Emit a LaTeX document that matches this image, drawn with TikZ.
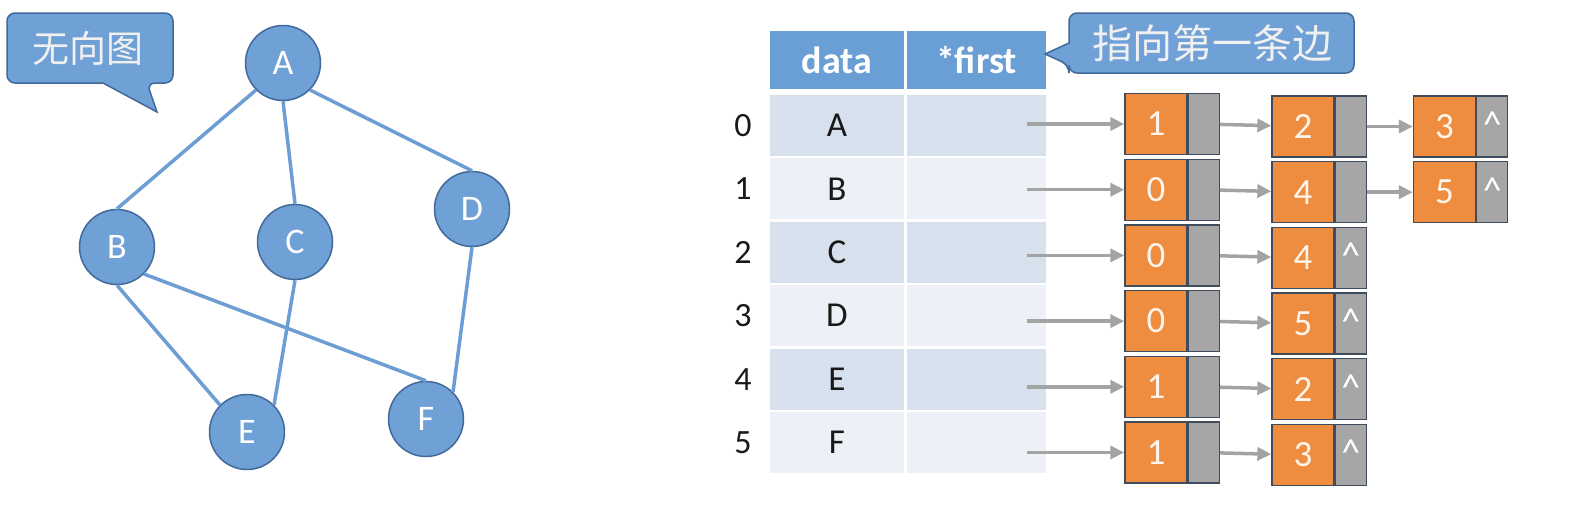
\documentclass[tikz,border=0pt]{standalone}
\usepackage{fontspec}
\setmainfont{Carlito}
\newfontfamily\cjk{Noto Sans CJK SC}
\usetikzlibrary{arrows.meta,positioning}

\definecolor{vfill}{HTML}{6FA0D6}
\definecolor{vline}{HTML}{41699A}
\definecolor{lineblue}{HTML}{6C9DD3}
\definecolor{headblue}{HTML}{6A9FD5}
\definecolor{rowdark}{HTML}{D7E0ED}
\definecolor{rowlight}{HTML}{EDF0F7}
\definecolor{cellorange}{HTML}{EE8D40}
\definecolor{cellgray}{HTML}{A6A6A6}
\definecolor{cellline}{HTML}{3E4C5E}
\definecolor{ptrgray}{HTML}{A3A3A3}

\tikzset{
  vert/.style={circle, draw=vline, fill=vfill, line width=1.5pt, minimum size=75pt,
    inner sep=0pt, text=white, font=\fontsize{36}{42}\selectfont},
  gline/.style={draw=lineblue, line width=3.5pt},
  head/.style={fill=headblue, text=white, minimum height=58pt, inner sep=0pt,
    font=\fontsize{38}{44}\selectfont\bfseries},
  cell/.style={minimum height=61pt, inner sep=0pt, text=black!90,
    font=\fontsize{35}{42}\selectfont},
  idx/.style={text=black!90, font=\fontsize{34}{40}\selectfont},
  vtx/.style={draw=cellline, fill=cellorange, line width=1.3pt, minimum width=62pt,
    minimum height=61pt, inner sep=0pt, text=white!92!orange,
    font=\fontsize{37}{44}\selectfont},
  nxt/.style={draw=cellline, fill=cellgray, line width=1.3pt, minimum width=31pt,
    minimum height=61pt, inner sep=0pt, text=white, font=\fontsize{38}{44}\selectfont},
  ptr/.style={draw=ptrgray, line width=3.5pt, -{Triangle[length=14pt,width=13pt]}},
  bubble/.style={draw=vline, fill=vfill, line width=1.5pt, rounded corners=8pt},
  tagtext/.style={text=white!94!black, inner sep=0pt},
}
\newcommand\nilmark{\raisebox{4pt}{\textasciicircum}}

\begin{document}
\begin{tikzpicture}[x=1pt,y=-1pt]
  \useasboundingbox (0,0) rectangle (1580,506);

  % undirected graph
  \node[vert] (A) at (283,63) {A};
  \node[vert] (B) at (117,247) {B};
  \node[vert] (C) at (295,242) {C};
  \node[vert] (D) at (472,209) {D};
  \node[vert] (E) at (247,432) {E};
  \node[vert] (F) at (426,419) {F};
  \draw[gline] (A.south west) -- (B.north);
  \draw[gline] (A.south) -- (C.north);
  \draw[gline] (A.south east) -- (D.north);
  \draw[gline] (B.south) -- (E.north west);
  \draw[gline] (B.south east) -- (F.north);
  \draw[gline] (C.south) -- (E.north east);
  \draw[gline] (D.south) -- (F.north east);

  \draw[bubble] (103,83) -- (7,83) -- (7,13) -- (173,13) -- (173,83) -- (147,83)
    [sharp corners] -- (157,112) -- cycle;
  \node[tagtext, font=\cjk\fontsize{37}{44}\selectfont] (tag1) at (88,48) {无向图};

  % vertex table
  \node[head, minimum width=134pt] (hdata) at (837,60) {data};
  \node[head, minimum width=139pt] (hfirst) at (976.5,60) {*first};
  \foreach \i/\v/\c in {0/A/rowdark,1/B/rowlight,2/C/rowdark,3/D/rowlight,4/E/rowdark,5/F/rowlight} {
    \node[cell, fill=\c, minimum width=134pt] (data\i) at (837,{125.5+63.4*\i}) {\v};
    \node[cell, fill=\c, minimum width=139pt] (first\i) at (976.5,{125.5+63.4*\i}) {};
    \node[idx] (idx\i) at (743,{125.5+63.4*\i}) {\i};
  }

  \draw[bubble] (1069,43) -- (1069,13) -- (1354,13) -- (1354,73) -- (1069,73) -- (1069,65)
    [sharp corners] -- (1045,54) -- cycle;
  \node[tagtext, font=\cjk\fontsize{40}{48}\selectfont] (tag2) at (1212,43) {指向第一条边};

  % edge lists
  \foreach \i/\a/\b/\t in {0/1/2/{},1/0/4/{},2/0/4/\nilmark,3/0/5/\nilmark,4/1/2/\nilmark,5/1/3/\nilmark} {
    \node[vtx] (o\i1) at (1156,{124+65.7*\i}) {\a};
    \node[nxt, right=0pt of o\i1] (g\i1) {};
    \node[vtx] (o\i2) at (1303,{126.5+65.7*\i}) {\b};
    \node[nxt, right=0pt of o\i2] (g\i2) {\t};
    \coordinate (s\i) at (1027,{124+65.7*\i});
    \draw[ptr] (s\i) -- (o\i1);
    \draw[ptr] (g\i1) -- (o\i2);
  }
  \foreach \i/\c in {0/3,1/5} {
    \node[vtx] (o\i3) at (1444.5,{126.5+65.7*\i}) {\c};
    \node[nxt, right=0pt of o\i3] (g\i3) {\nilmark};
    \draw[ptr] (g\i2) -- (o\i3);
  }
\end{tikzpicture}
\end{document}
